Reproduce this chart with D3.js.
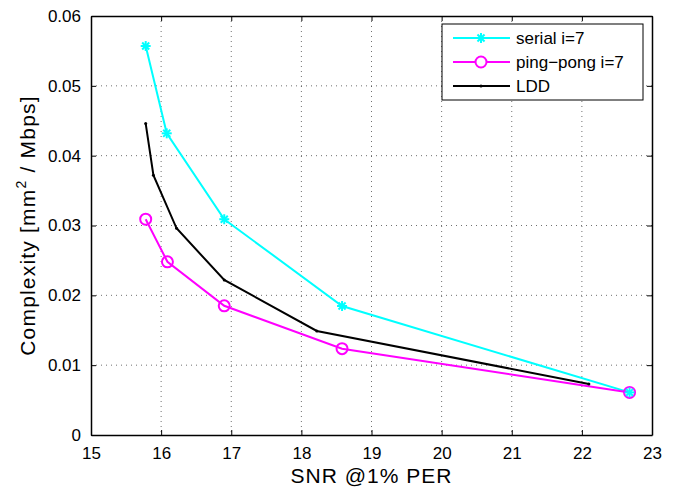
<!DOCTYPE html>
<html>
  <head>
    <meta charset="UTF-8">
    <title></title>
    <style>
    body { margin: 0; background: #fff; }
    text { font-family: "Liberation Sans", Arial, sans-serif; fill: #000; }
    .grid line { stroke: #000; stroke-width: 0.8; stroke-dasharray: 1,4; opacity: 0.7; }
    </style>
  </head>
  <body>
    <svg id="chart" width="680" height="489"></svg>
  <script src="https://cdn.jsdelivr.net/npm/d3@7"></script>
  <script>
  // SNR @1% PER vs complexity
  var serialX = [15.78, 16.08, 16.9, 18.58, 22.68];
  var serialY = [0.0557, 0.0432, 0.0309, 0.01847, 0.0061];
  var pingX = [15.78, 16.09, 16.9, 18.58, 22.68];
  var pingY = [0.0309, 0.0248, 0.0185, 0.01236, 0.0061];
  var lddX = [15.78, 15.89, 16.22, 16.9, 18.22, 22.1];
  var lddY = [0.0446, 0.0372, 0.0296, 0.0222, 0.0149, 0.0073];
  var xTicks = [15, 16, 17, 18, 19, 20, 21, 22, 23];
  var yTicks = [0, 0.01, 0.02, 0.03, 0.04, 0.05, 0.06];
  var legendNames = ["serial i=7", "ping\u2212pong i=7", "LDD"];

  var pLeft = 91, pRight = 652, pTop = 16, pBottom = 435;

  var svg = d3.select("#chart");
  var x = d3.scaleLinear().domain([15, 23]).range([pLeft, pRight]);
  var y = d3.scaleLinear().domain([0, 0.06]).range([pBottom, pTop]);

  // grid
  var grid = svg.append("g").attr("class", "grid");
  grid.selectAll(".gx").data(xTicks.slice(1, -1)).enter().append("line")
    .attr("x1", d => x(d)).attr("x2", d => x(d))
    .attr("y1", pTop).attr("y2", pBottom);
  grid.selectAll(".gy").data(yTicks.slice(1, -1)).enter().append("line")
    .attr("x1", pLeft).attr("x2", pRight)
    .attr("y1", d => y(d)).attr("y2", d => y(d));

  // axes (ticks inward, like matlab)
  var xAxis = svg.append("g").attr("transform", "translate(0," + pBottom + ")")
    .call(d3.axisBottom(x).tickValues(xTicks).tickFormat(d3.format("d")).tickSizeInner(-5).tickSizeOuter(0).tickPadding(12));
  var yAxis = svg.append("g").attr("transform", "translate(" + pLeft + ",0)")
    .call(d3.axisLeft(y).tickValues(yTicks).tickFormat(d => d === 0 ? "0" : d3.format(".2f")(d)).tickSizeInner(-5).tickSizeOuter(0).tickPadding(10));
  svg.append("g").attr("transform", "translate(0," + pTop + ")")
    .call(d3.axisTop(x).tickValues(xTicks).tickFormat("").tickSizeInner(-5).tickSizeOuter(0));
  svg.append("g").attr("transform", "translate(" + pRight + ",0)")
    .call(d3.axisRight(y).tickValues(yTicks).tickFormat("").tickSizeInner(-5).tickSizeOuter(0));
  svg.selectAll(".domain").attr("stroke", "#000").attr("stroke-width", 1.5);
  svg.selectAll(".tick text").attr("font-size", 17).attr("font-family", "Liberation Sans, Arial, sans-serif");
  xAxis.selectAll(".tick text").attr("dy", "0.71em");

  // titles
  svg.append("text").attr("x", (pLeft + pRight) / 2).attr("y", 483)
    .attr("text-anchor", "middle").attr("font-size", 21).attr("letter-spacing", 1).text("SNR @1% PER");
  var yl = svg.append("text").attr("transform", "translate(35," + (pTop + pBottom) / 2 + ")rotate(-90)")
    .attr("text-anchor", "middle").attr("font-size", 21).attr("letter-spacing", 1.2);
  yl.append("tspan").text("Complexity [mm");
  yl.append("tspan").attr("font-size", 14).attr("dy", -9).text("2");
  yl.append("tspan").attr("dy", 9).text(" / Mbps]");

  var line = d3.line().x(d => x(d[0])).y(d => y(d[1]));
  var serial = d3.zip(serialX, serialY);
  var ping = d3.zip(pingX, pingY);
  var ldd = d3.zip(lddX, lddY);

  function star(g, cx, cy, r) {
    for (var a = 0; a < 4; a++) {
      var ang = a * Math.PI / 4;
      g.append("line")
        .attr("x1", cx - r * Math.cos(ang)).attr("y1", cy - r * Math.sin(ang))
        .attr("x2", cx + r * Math.cos(ang)).attr("y2", cy + r * Math.sin(ang))
        .attr("stroke", "#00ffff").attr("stroke-width", 2);
    }
  }

  svg.append("path").datum(serial).attr("d", line)
    .attr("fill", "none").attr("stroke", "#00ffff").attr("stroke-width", 2);
  svg.append("path").datum(ping).attr("d", line)
    .attr("fill", "none").attr("stroke", "#ff00ff").attr("stroke-width", 2);
  svg.append("path").datum(ldd).attr("d", line)
    .attr("fill", "none").attr("stroke", "#000").attr("stroke-width", 2);

  var marks = svg.append("g");
  ldd.forEach(d => marks.append("circle").attr("cx", x(d[0])).attr("cy", y(d[1])).attr("r", 1.5).attr("fill", "#000"));
  ping.forEach(d => marks.append("circle").attr("cx", x(d[0])).attr("cy", y(d[1])).attr("r", 5.5)
    .attr("fill", "none").attr("stroke", "#ff00ff").attr("stroke-width", 2));
  serial.forEach(d => star(marks, x(d[0]), y(d[1]), 5));

  // legend
  var lg = svg.append("g");
  lg.append("rect").attr("x", 442).attr("y", 24).attr("width", 201).attr("height", 76)
    .attr("fill", "#fff").attr("stroke", "#000").attr("stroke-width", 1);
  var colors = ["#00ffff", "#ff00ff", "#000"];
  legendNames.forEach(function(name, i) {
    var ly = 38 + i * 24;
    lg.append("line").attr("x1", 453).attr("x2", 510).attr("y1", ly).attr("y2", ly)
      .attr("stroke", colors[i]).attr("stroke-width", 2);
    if (i == 0) star(lg, 481, ly, 5);
    if (i == 1) lg.append("circle").attr("cx", 481).attr("cy", ly).attr("r", 5.5)
      .attr("fill", "#fff").attr("stroke", "#ff00ff").attr("stroke-width", 2);
    if (i == 2) lg.append("circle").attr("cx", 481).attr("cy", ly).attr("r", 1.5).attr("fill", "#000");
    lg.append("text").attr("x", 516).attr("y", ly + 6).attr("font-size", 17).text(name);
  });
  </script>
  </body>
</html>
